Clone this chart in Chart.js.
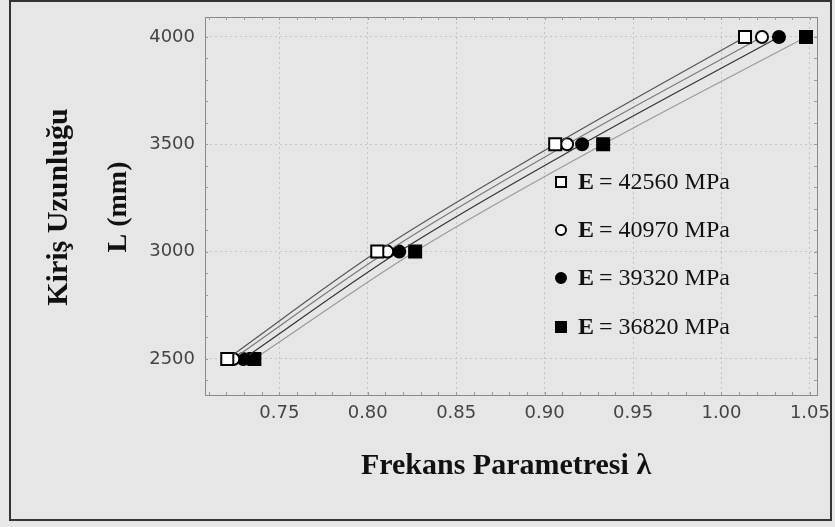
<!DOCTYPE html>
<html>
<head>
<meta charset="utf-8">
<script src="https://cdn.jsdelivr.net/npm/chart.js@4.4.0/dist/chart.umd.min.js"></script>
<style>
  html, body { margin: 0; padding: 0; background: #e6e6e6; }
  #wrap { width: 835px; height: 527px; position: relative; }
</style>
</head>
<body>
<div id="wrap"><canvas id="chart" width="835" height="527"></canvas></div>
<script>
// lengths L (mm)
const lengths = [2500, 3000, 3500, 4000];
// frequency parameter λ for each modulus
const lambda42560 = [0.7206, 0.8054, 0.9060, 1.0133];
const lambda40970 = [0.7240, 0.8110, 0.9127, 1.0229];
const lambda39320 = [0.7297, 0.8178, 0.9212, 1.0325];
const lambda36820 = [0.7359, 0.8268, 0.9331, 1.0478];
const seriesLabels = ['42560', '40970', '39320', '36820'];
const xTicks = [0.75, 0.80, 0.85, 0.90, 0.95, 1.00, 1.05];
const yTicks = [2500, 3000, 3500, 4000];

const serif = "'Liberation Serif', 'Times New Roman', serif";

function pts(xs) {
    return xs.map((x, i) => ({ x: x, y: lengths[i] }));
}

const styles = [
    { line: '#555555', fill: '#ffffff', shape: 'rect', r: 8.5 },
    { line: '#7a7a7a', fill: '#ffffff', shape: 'circle', r: 6 },
    { line: '#333333', fill: '#000000', shape: 'circle', r: 6 },
    { line: '#9a9a9a', fill: '#000000', shape: 'rect', r: 8.5 }
];
const allData = [lambda42560, lambda40970, lambda39320, lambda36820];

const datasets = allData.map((d, i) => ({
    label: 'E = ' + seriesLabels[i] + ' MPa',
    data: pts(d),
    showLine: true,
    borderColor: styles[i].line,
    borderWidth: 1.2,
    cubicInterpolationMode: 'monotone',
    pointStyle: styles[i].shape,
    pointRadius: styles[i].r,
    pointBackgroundColor: styles[i].fill,
    pointBorderColor: '#000000',
    pointBorderWidth: 2
}));

// background, frame, titles and legend
const decor = {
    id: 'decor',
    beforeDraw(chart) {
        const ctx = chart.ctx;
        ctx.save();
        ctx.fillStyle = '#e6e6e6';
        ctx.fillRect(0, 0, chart.width, chart.height);
        ctx.strokeStyle = '#333';
        ctx.lineWidth = 2;
        ctx.strokeRect(10, 1, 821, 519);
        ctx.restore();
    },
    afterDraw(chart) {
        const ctx = chart.ctx;
        const a = chart.chartArea;
        const xs = chart.scales.x, ys = chart.scales.y;
        ctx.save();
        // plot frame
        ctx.strokeStyle = '#8a8a8a';
        ctx.lineWidth = 1;
        ctx.strokeRect(a.left + 0.5, a.top + 0.5, a.right - a.left, a.bottom - a.top);
        // minor ticks
        ctx.strokeStyle = '#9a9a9a';
        for (let v = 0.71; v < 1.055; v += 0.01) {
            const px = Math.round(xs.getPixelForValue(v)) + 0.5;
            ctx.beginPath();
            ctx.moveTo(px, a.bottom); ctx.lineTo(px, a.bottom - 3);
            ctx.moveTo(px, a.top); ctx.lineTo(px, a.top + 3);
            ctx.stroke();
        }
        for (let v = 2400; v <= 4050; v += 100) {
            const py = Math.round(ys.getPixelForValue(v)) + 0.5;
            ctx.beginPath();
            ctx.moveTo(a.left, py); ctx.lineTo(a.left + 3, py);
            ctx.moveTo(a.right, py); ctx.lineTo(a.right - 3, py);
            ctx.stroke();
        }
        // axis titles
        ctx.fillStyle = '#111';
        ctx.textAlign = 'center';
        ctx.textBaseline = 'middle';
        ctx.font = 'bold 30px ' + serif;
        ctx.fillText('Frekans Parametresi λ', 506, 466);
        const cy = 207;
        ctx.save();
        ctx.translate(59, cy);
        ctx.rotate(-Math.PI / 2);
        ctx.fillText('Kiriş Uzunluğu', 0, 0);
        ctx.restore();
        ctx.save();
        ctx.translate(119, cy);
        ctx.rotate(-Math.PI / 2);
        ctx.font = 'bold 28px ' + serif;
        ctx.fillText('L (mm)', 0, 0);
        ctx.restore();
        // legend
        const rows = [182, 230, 278, 327];
        ctx.textAlign = 'left';
        styles.forEach((s, i) => {
            const y = rows[i];
            ctx.fillStyle = s.fill;
            ctx.strokeStyle = '#000';
            ctx.lineWidth = 2;
            ctx.beginPath();
            if (s.shape === 'rect') {
                ctx.rect(556, y - 5, 10, 10);
            } else {
                ctx.arc(561, y, 5, 0, Math.PI * 2);
            }
            ctx.fill();
            ctx.stroke();
            ctx.fillStyle = '#111';
            ctx.font = 'bold 24px ' + serif;
            ctx.fillText('E', 578, y + 1);
            ctx.font = '24px ' + serif;
            ctx.fillText('= ' + seriesLabels[i] + ' MPa', 599, y + 1);
        });
        ctx.restore();
    }
};

new Chart(document.getElementById('chart'), {
    type: 'scatter',
    data: { datasets: datasets },
    options: {
        responsive: false,
        animation: false,
        layout: { padding: { top: 17, right: 18, left: 0, bottom: 0 } },
        plugins: { legend: { display: false }, tooltip: { enabled: false } },
        scales: {
            x: {
                type: 'linear',
                min: 0.708,
                max: 1.054,
                afterBuildTicks(scale) {
                    scale.ticks = xTicks.map(v => ({ value: v }));
                },
                afterFit(scale) {
                    scale.height = 132;
                    scale.paddingLeft = 0;
                    scale.paddingRight = 0;
                },
                border: { display: false, dash: [2, 3] },
                grid: { color: '#c4c4c4', lineWidth: 1, drawTicks: false },
                ticks: {
                    padding: 8,
                    color: '#444',
                    font: { family: 'DejaVu Sans', size: 18, weight: 'normal' },
                    callback: v => v.toFixed(2)
                }
            },
            y: {
                type: 'linear',
                min: 2332,
                max: 4093,
                afterBuildTicks(scale) {
                    scale.ticks = yTicks.map(v => ({ value: v }));
                },
                afterFit(scale) {
                    scale.width = 205;
                    scale.paddingTop = 0;
                    scale.paddingBottom = 0;
                },
                border: { display: false, dash: [2, 3] },
                grid: { color: '#c4c4c4', lineWidth: 1, drawTicks: false },
                ticks: {
                    padding: 10,
                    color: '#444',
                    font: { family: 'DejaVu Sans', size: 18, weight: 'normal' },
                    callback: v => String(v)
                }
            }
        }
    },
    plugins: [decor]
});
</script>
</body>
</html>
